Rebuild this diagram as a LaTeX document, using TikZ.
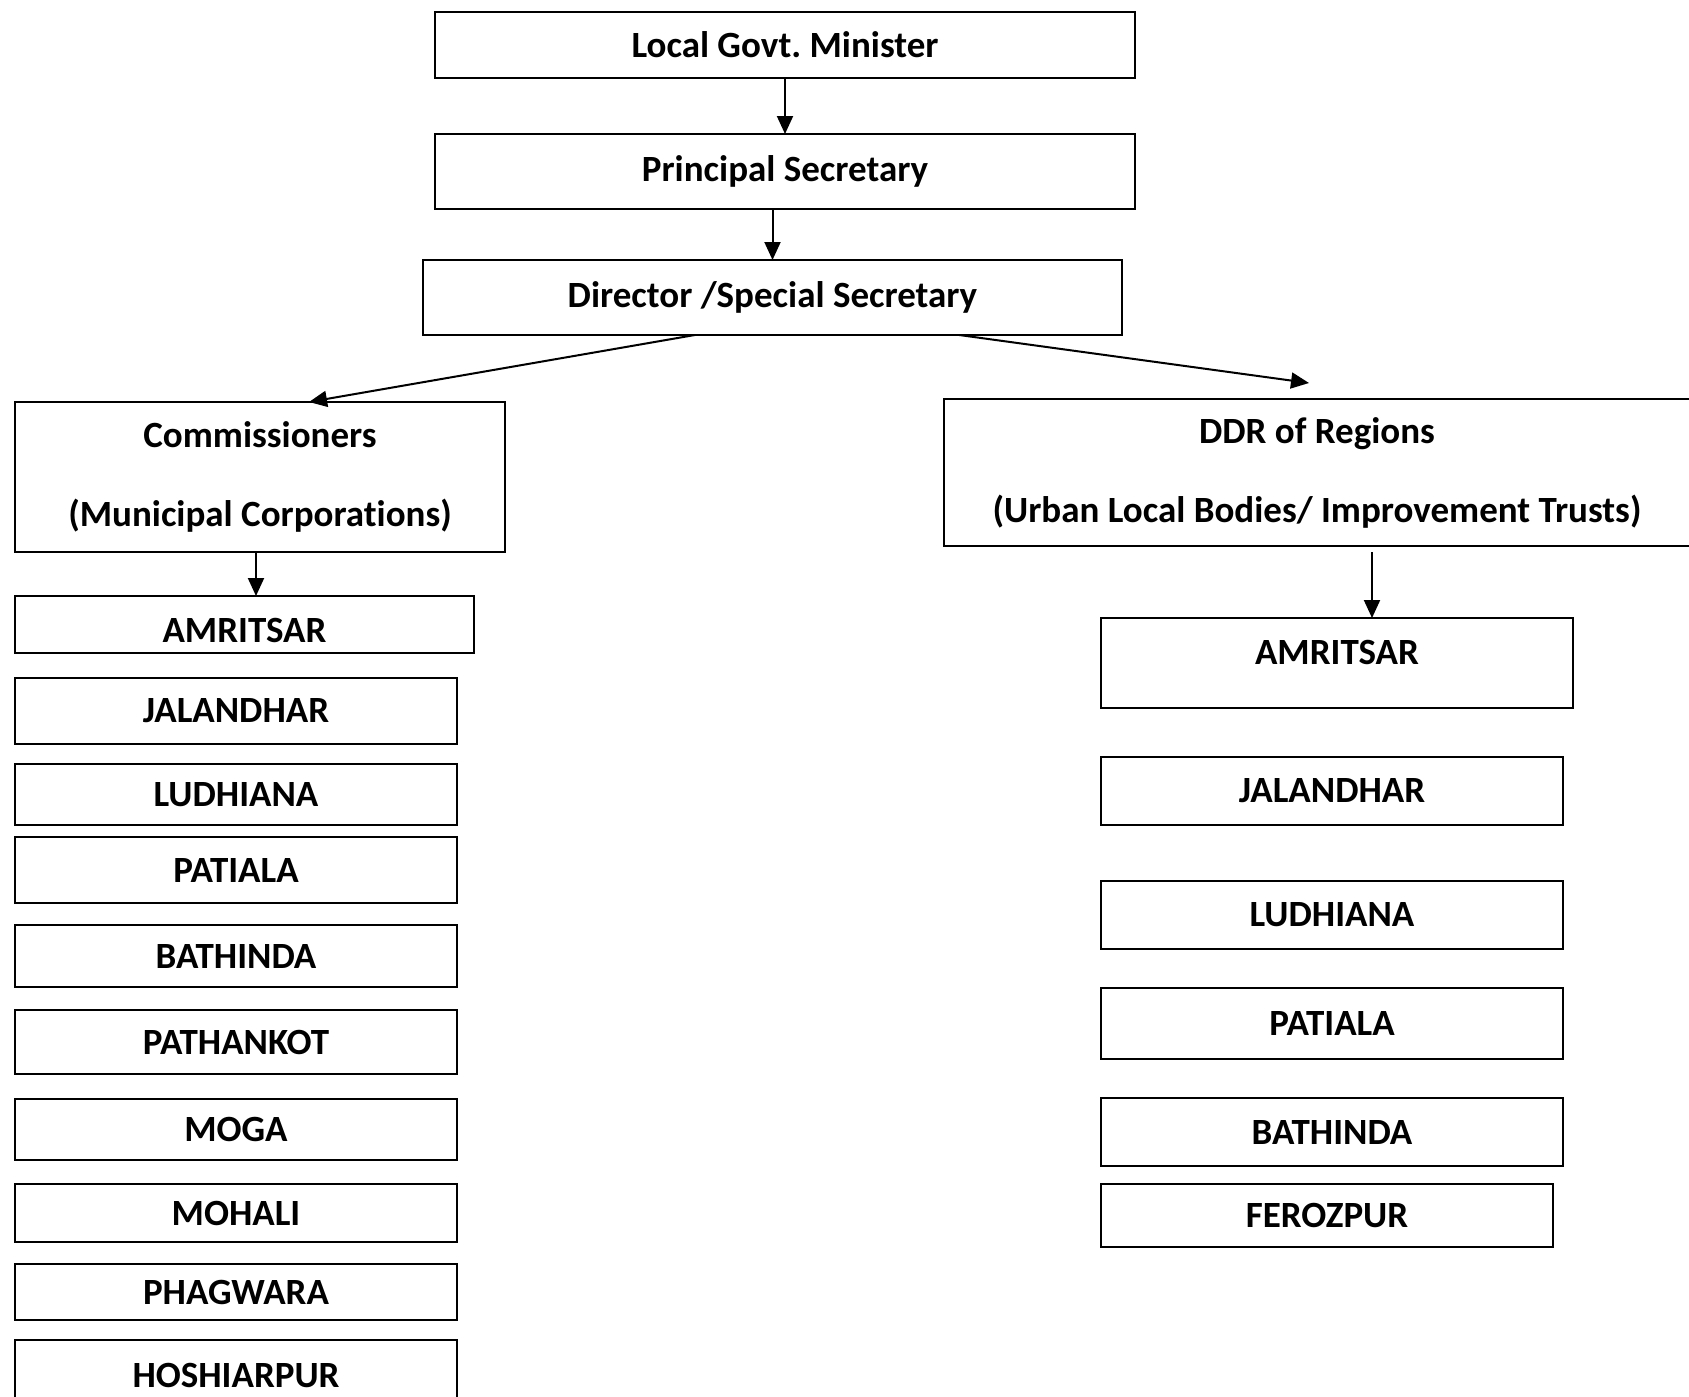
\documentclass[tikz,border=0pt]{standalone}
\usepackage{fontspec}
\setmainfont[Ligatures=NoCommon]{Carlito}
\usetikzlibrary{arrows.meta,calc}
\frenchspacing
\tikzset{
  box/.style={draw=black, line width=1.6pt, inner sep=0pt, outer sep=0pt, anchor=north west,
    font=\bfseries\fontsize{37}{44}\selectfont, align=center},
  twoline/.style={font=\bfseries\fontsize{37}{79}\selectfont},
  conn/.style={line width=2pt, arrows={-Triangle[length=18pt,width=16pt]}}
}
\begin{document}
\begin{tikzpicture}[x=1pt,y=-1pt]
\useasboundingbox (0,0) rectangle (1689,1397);
% top chain
\node[box, minimum width=700, minimum height=66] (lgm) at (435,12) {Local Govt. Minister};
\node[box, minimum width=700, minimum height=75] (ps) at (435,134) {Principal Secretary};
\node[box, minimum width=699, minimum height=75] (dir) at (423,260) {Director /Special Secretary};
% second level
\node[box, twoline, minimum width=490, minimum height=150] (com) at (15,402) {Commissioners\\(Municipal Corporations)};
\node[box, twoline, minimum width=746, minimum height=147] (ddr) at (944,399) {DDR of Regions\\(Urban Local Bodies/ Improvement Trusts)};
% left column
\node[box, minimum width=459, minimum height=57, text height=37pt] (l1) at (15,596) {AMRITSAR};
\node[box, minimum width=442, minimum height=66] (l2) at (15,678) {JALANDHAR};
\node[box, minimum width=442, minimum height=61] (l3) at (15,764) {LUDHIANA};
\node[box, minimum width=442, minimum height=66] (l4) at (15,837) {PATIALA};
\node[box, minimum width=442, minimum height=62] (l5) at (15,925) {BATHINDA};
\node[box, minimum width=442, minimum height=64] (l6) at (15,1010) {PATHANKOT};
\node[box, minimum width=442, minimum height=61] (l7) at (15,1099) {MOGA};
\node[box, minimum width=442, minimum height=58] (l8) at (15,1184) {MOHALI};
\node[box, minimum width=442, minimum height=56] (l9) at (15,1264) {PHAGWARA};
\node[box, minimum width=442, minimum height=70] (l10) at (15,1340) {HOSHIARPUR};
% right column
\node[box, minimum width=472, minimum height=90, text depth=22pt] (r1) at (1101,618) {AMRITSAR};
\node[box, minimum width=462, minimum height=68] (r2) at (1101,757) {JALANDHAR};
\node[box, minimum width=462, minimum height=68] (r3) at (1101,881) {LUDHIANA};
\node[box, minimum width=462, minimum height=71] (r4) at (1101,988) {PATIALA};
\node[box, minimum width=462, minimum height=68] (r5) at (1101,1098) {BATHINDA};
\node[box, minimum width=452, minimum height=63] (r6) at (1101,1184) {FEROZPUR};
% connectors
\draw[conn] (lgm.south) -- (ps.north);
\draw[conn] (ps.south -| dir.north) -- (dir.north);
\draw[conn] ($(dir.south west)!0.389!(dir.south east)$) -- ($(com.north west)!0.6!(com.north east)$);
\coordinate (ddrtip) at (1309,383);
\draw[conn] ($(dir.south west)!0.767!(dir.south east)$) -- (ddrtip);
\coordinate (comout) at ($(com.south west)+(241,0)$);
\draw[conn] (comout) -- (comout |- l1.north);
\coordinate (ddrout) at ($(ddr.south west)+(428,6)$);
\draw[conn] (ddrout) -- (ddrout |- r1.north);
\end{tikzpicture}
\end{document}
